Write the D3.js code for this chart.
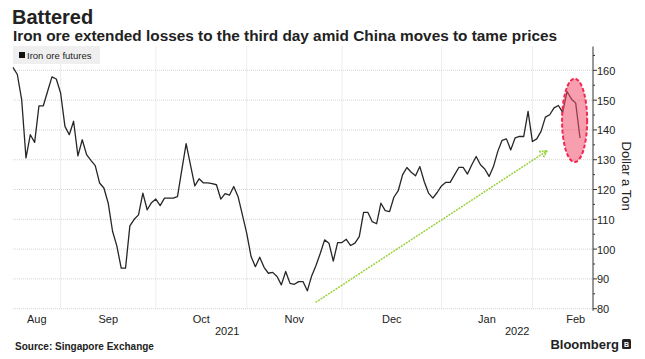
<!DOCTYPE html>
<html>
<head>
<meta charset="utf-8">
<script src="https://cdn.jsdelivr.net/npm/d3@7"></script>
<style>
body { margin: 0; background: #fff; }
svg text { font-family: "Liberation Sans", Arial, sans-serif; fill: #222; }
</style>
</head>
<body>
<svg id="chart" width="645" height="359"></svg>
<script>
// first trading day shown, one value per weekday after that
var startDate = new Date(2021, 7, 17);
var prices = [
	161, 158.6, 150.2, 130.6, 138.4, 135.8, 148.1, 148.1, 153, 157.8,
	157.1, 152.4, 141.2, 138.4, 142.9, 131.3, 136.7, 131.7, 129.8, 128,
	122.2, 120.5, 115.4, 106, 101, 93.6, 93.6, 107.8, 110, 111.5,
	118.8, 113.2, 115.6, 116.8, 114.6, 117.1, 117.1, 117.1, 117.6, 126.6,
	135.4, 128.3, 121.2, 123.6, 122.2, 122.2, 122, 121.6, 116.8, 118.6,
	118.1, 121, 117.6, 111.5, 105.3, 97.5, 94.1, 97.3, 93.9, 91.9,
	92.2, 90.8, 88, 92.5, 88.5, 88.2, 89.1, 89.1, 86, 91,
	94.5, 98.6, 103.1, 102, 96, 102.2, 102.2, 103.3, 101.2, 102,
	104.2, 112.3, 112.3, 109.2, 108.5, 115.4, 112.9, 112.6, 117.4, 119.6,
	124.9, 127.4, 125.8, 124.6, 127.7, 122.7, 118.8, 117.1, 119, 121.2,
	122.4, 122.4, 124.9, 127.4, 127.4, 125.2, 128.3, 131.1, 128.3, 126.9,
	124.4, 127.7, 132.8, 136.5, 137, 133.3, 137.3, 137.8, 137.8, 146.2,
	136.1, 137, 139.5, 144.3, 145.1, 147.4, 148.2, 145.9, 152.9, 150.4, 149, 137.3
];
var monthNames = ["Aug", "Sep", "Oct", "Nov", "Dec", "Jan", "Feb"];
var yearNames = ["2021", "2022"];
var yTicks = [80, 90, 100, 110, 120, 130, 140, 150, 160];
var yMinor = [85, 95, 105, 115, 125, 135, 145, 155, 165];

// annotations, in data units (weekday index / dollars)
var trendArrow = [[69.9, 82.1], [123.4, 133]];
var lossEllipse = { i: 129.75, v: 143.2, di: 2.9, dv: 14 };

var svg = d3.select("#chart");

// weekday calendar so the axis skips weekends like the terminal does
var dates = [];
var d = new Date(startDate);
while (dates.length < prices.length + 30) {
	if (d.getDay() % 6 !== 0) dates.push(new Date(d));
	d.setDate(d.getDate() + 1);
}
var monthStarts = [0];
for (var i = 1; i < dates.length; i++) {
	if (dates[i].getMonth() !== dates[i - 1].getMonth()) monthStarts.push(i);
}

var endIdx = prices.length - 1 + 3;
var x = d3.scaleLinear().domain([0, endIdx]).range([13, 593]);
var y = d3.scaleLinear().domain([80, 168]).range([308.7, 46.5]);

var plotTop = y(168), plotBottom = y(80);

// gridlines
svg.append("g")
	.selectAll("line")
	.data(yTicks)
	.join("line")
	.attr("x1", x(0))
	.attr("x2", x(endIdx))
	.attr("y1", (v) => y(v))
	.attr("y2", (v) => y(v))
	.attr("stroke", "#d6d6d6")
	.attr("stroke-dasharray", "1,1");

svg.append("g")
	.selectAll("line")
	.data(monthStarts.slice(1, monthNames.length))
	.join("line")
	.attr("x1", (i) => x(i))
	.attr("x2", (i) => x(i))
	.attr("y1", plotTop)
	.attr("y2", plotBottom)
	.attr("stroke", "#dcdcdc")
	.attr("stroke-dasharray", "1,1");

// legend
var legend = svg.append("g");
legend.append("rect")
	.attr("x", 13).attr("y", 46)
	.attr("width", 87).attr("height", 18)
	.attr("fill", "#efefef");
legend.append("rect")
	.attr("x", 19).attr("y", 52)
	.attr("width", 6).attr("height", 6)
	.attr("fill", "#111");
legend.append("text")
	.attr("x", 27).attr("y", 58.5)
	.attr("font-size", 9.5)
	.attr("fill", "#444")
	.text("Iron ore futures");

// price line
var line = d3.line()
	.x((v, i) => x(i))
	.y((v) => y(v));

svg.append("path")
	.datum(prices)
	.attr("d", line)
	.attr("fill", "none")
	.attr("stroke", "#262626")
	.attr("stroke-width", 1.3)
	.attr("stroke-linejoin", "round");

// green trend arrow
svg.append("defs").append("marker")
	.attr("id", "head")
	.attr("viewBox", "0 0 10 10")
	.attr("refX", 9).attr("refY", 5)
	.attr("markerWidth", 6).attr("markerHeight", 6)
	.attr("orient", "auto")
	.append("path")
	.attr("d", "M1,1 L9,5 L1,9")
	.attr("fill", "none")
	.attr("stroke", "#9ad13c")
	.attr("stroke-width", 2)
	.attr("stroke-dasharray", "2,1");

svg.append("line")
	.attr("x1", x(trendArrow[0][0]))
	.attr("y1", y(trendArrow[0][1]))
	.attr("x2", x(trendArrow[1][0]))
	.attr("y2", y(trendArrow[1][1]))
	.attr("stroke", "#9ad13c")
	.attr("stroke-width", 1.5)
	.attr("stroke-dasharray", "2,1")
	.attr("marker-end", "url(#head)");

// red ellipse over the last three days
svg.append("ellipse")
	.attr("cx", x(lossEllipse.i))
	.attr("cy", y(lossEllipse.v))
	.attr("rx", x(lossEllipse.i + lossEllipse.di) - x(lossEllipse.i))
	.attr("ry", y(lossEllipse.v - lossEllipse.dv) - y(lossEllipse.v))
	.attr("fill", "#f0506e")
	.attr("fill-opacity", 0.55)
	.attr("stroke", "#f22a50")
	.attr("stroke-width", 2)
	.attr("stroke-dasharray", "4,2");

// right axis
var axisX = x(endIdx);
svg.append("line")
	.attr("x1", axisX).attr("x2", axisX)
	.attr("y1", plotTop).attr("y2", plotBottom + 2)
	.attr("stroke", "#333");

var yAxis = svg.append("g");
yAxis.selectAll("line.major")
	.data(yTicks)
	.join("line")
	.attr("class", "major")
	.attr("x1", axisX).attr("x2", axisX + 4)
	.attr("y1", (v) => y(v)).attr("y2", (v) => y(v))
	.attr("stroke", "#333");
yAxis.selectAll("line.minor")
	.data(yMinor)
	.join("line")
	.attr("class", "minor")
	.attr("x1", axisX).attr("x2", axisX + 2)
	.attr("y1", (v) => y(v)).attr("y2", (v) => y(v))
	.attr("stroke", "#333");
yAxis.selectAll("text")
	.data(yTicks)
	.join("text")
	.attr("x", axisX + 4)
	.attr("y", (v) => y(v))
	.attr("dy", "0.4em")
	.attr("font-size", 11)
	.attr("fill", "#333")
	.text((v) => v);

svg.append("text")
	.attr("transform", "translate(622," + y(124.5) + ") rotate(90)")
	.attr("text-anchor", "middle")
	.attr("font-size", 13)
	.attr("fill", "#222")
	.text("Dollar a Ton");

// month labels, centred on the weekdays of each month
svg.append("g")
	.selectAll("text")
	.data(monthNames)
	.join("text")
	.attr("x", (m, k) => x((monthStarts[k] + monthStarts[k + 1]) / 2))
	.attr("y", 323)
	.attr("text-anchor", "middle")
	.attr("font-size", 11)
	.attr("fill", "#333")
	.text((m) => m);

var yearStart = monthStarts[monthNames.indexOf("Jan")];
var yearSpans = [[0, yearStart], [yearStart, endIdx]];
svg.append("g")
	.selectAll("text")
	.data(yearNames)
	.join("text")
	.attr("x", (t, k) => x((yearSpans[k][0] + yearSpans[k][1]) / 2))
	.attr("y", 335)
	.attr("text-anchor", "middle")
	.attr("font-size", 11)
	.attr("fill", "#333")
	.text((t) => t);

// titles
svg.append("text")
	.attr("x", 12).attr("y", 24)
	.attr("font-size", 20)
	.attr("font-weight", "bold")
	.attr("fill", "#111")
	.text("Battered");

svg.append("text")
	.attr("x", 13).attr("y", 41)
	.attr("font-size", 14.5)
	.attr("font-weight", "bold")
	.attr("fill", "#111")
	.attr("textLength", 544)
	.attr("lengthAdjust", "spacingAndGlyphs")
	.text("Iron ore extended losses to the third day amid China moves to tame prices");

// footer
svg.append("text")
	.attr("x", 15).attr("y", 350)
	.attr("font-size", 10)
	.attr("font-weight", "bold")
	.attr("fill", "#222")
	.text("Source: Singapore Exchange");

svg.append("text")
	.attr("x", 619).attr("y", 349)
	.attr("text-anchor", "end")
	.attr("font-size", 13)
	.attr("font-weight", "bold")
	.attr("fill", "#222")
	.text("Bloomberg");

svg.append("rect")
	.attr("x", 622).attr("y", 339)
	.attr("width", 9).attr("height", 10)
	.attr("rx", 1.5)
	.attr("fill", "#222");
svg.append("text")
	.attr("x", 626.5).attr("y", 347)
	.attr("text-anchor", "middle")
	.attr("font-size", 7)
	.attr("font-weight", "bold")
	.style("fill", "#fff")
	.text("B");
</script>
</body>
</html>
